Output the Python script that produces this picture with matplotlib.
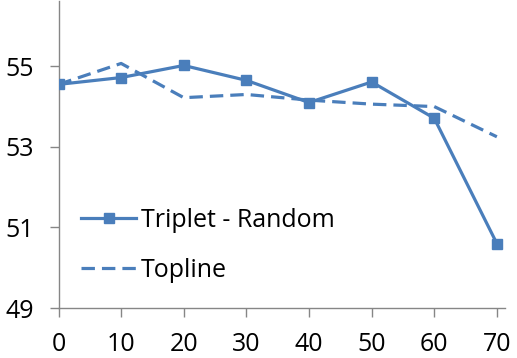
import matplotlib
matplotlib.use("Agg")
import matplotlib.pyplot as plt

x = [0, 10, 20, 30, 40, 50, 60, 70]
triplet_random = [54.55, 54.72, 55.02, 54.65, 54.10, 54.61, 53.71, 50.60]
topline = [54.55, 55.07, 54.22, 54.30, 54.16, 54.06, 54.00, 53.25]
yticks = [49, 51, 53, 55]
xticks = [0, 10, 20, 30, 40, 50, 60, 70]

plt.rcParams['font.family'] = ['Open Sans', 'DejaVu Sans']
W, H = 517, 358
fig = plt.figure(figsize=(W / 100, H / 100), dpi=100)
ax = fig.add_axes([58.5 / W, (H - 308) / H, (505 - 58.5) / W, (308 - 1) / H])

color = '#4A7EBB'
ax.plot(x, triplet_random, color=color, lw=2.3, marker='s', ms=6.8,
        label='Triplet - Random', zorder=3)
ax.plot(x, topline, color=color, lw=2.3, ls=(0, (4.2, 2.2)),
        label='Topline', zorder=2)

ax.set_xlim(0, 71.3)
ax.set_ylim(49, 56.62)
ax.set_xticks(xticks)
ax.set_yticks(yticks)
for s in ['top', 'right']:
    ax.spines[s].set_visible(False)
for s in ['left', 'bottom']:
    ax.spines[s].set_color('#868686')
    ax.spines[s].set_linewidth(1.0)
ax.tick_params(axis='both', colors='#868686', length=6.5, width=1.0,
               labelcolor='black', labelsize=18)
ax.tick_params(axis='x', pad=10.5)
ax.tick_params(axis='y', pad=11)

leg = ax.legend(loc='lower left', bbox_to_anchor=(0.0, 0.008), frameon=False,
                fontsize=18, handlelength=2.2, handletextpad=0.2,
                labelspacing=1.0)

fig.savefig('out.png', dpi=100)
